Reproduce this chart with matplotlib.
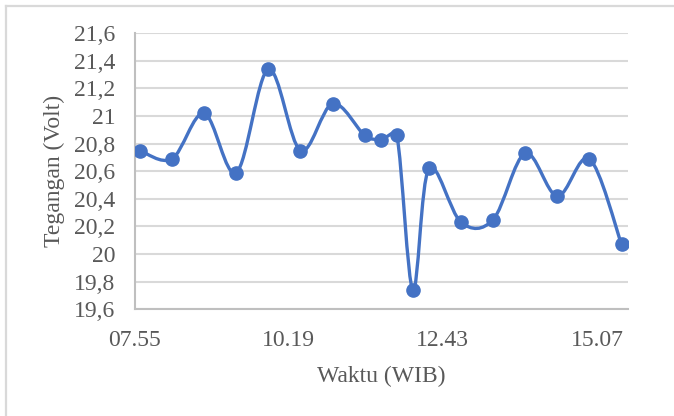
import numpy as np
import matplotlib
matplotlib.use("Agg")
import matplotlib.pyplot as plt
from matplotlib.path import Path
from matplotlib.patches import PathPatch
from matplotlib.lines import Line2D
from matplotlib.ticker import FixedLocator, FuncFormatter

# measurement times (WIB) and voltage readings
times = ["08:00", "08:30", "09:00", "09:30", "10:00", "10:30", "11:00", "11:30",
         "11:45", "12:00", "12:15", "12:30", "13:00", "13:30", "14:00", "14:30",
         "15:00", "15:30"]
volts = [20.75, 20.69, 21.02, 20.59, 21.34, 20.75, 21.09, 20.86,
         20.83, 20.86, 19.74, 20.62, 20.23, 20.25, 20.73, 20.42,
         20.69, 20.07]
x_ticks = ["07:55", "10:19", "12:43", "15:07"]
x_max = "15:36"
y_ticks = [19.6, 19.8, 20.0, 20.2, 20.4, 20.6, 20.8, 21.0, 21.2, 21.4, 21.6]

BLUE = "#4472C4"
GRID = "#D9D9D9"
TXT = "#595959"
FONT = "Liberation Serif"
FS = 17


def to_min(t):
    h, m = t.split(":")
    return int(h) * 60 + int(m)


def fmt_time(v, pos=None):
    v = int(round(v))
    return "%02d.%02d" % (v // 60, v % 60)


def fmt_volt(v, pos=None):
    s = ("%.1f" % v).replace(".", ",")
    return s[:-2] if s.endswith(",0") else s


def smooth_path(ax, xs, ys):
    # cardinal bezier (1/6 tension), control arms clamped to half the segment
    # length measured on screen so short segments don't overshoot
    pts = np.column_stack([xs, ys])
    scr = ax.transData.transform(pts)
    n = len(pts)
    verts = [pts[0]]
    codes = [Path.MOVETO]
    for i in range(n - 1):
        i0 = max(i - 1, 0)
        i3 = min(i + 2, n - 1)
        d12 = np.hypot(*(scr[i + 1] - scr[i]))
        d02 = np.hypot(*(scr[i + 1] - scr[i0]))
        d13 = np.hypot(*(scr[i3] - scr[i]))
        f1 = min(1 / 6.0, d12 / (2 * d02)) if d02 > 0 else 0
        f2 = min(1 / 6.0, d12 / (2 * d13)) if d13 > 0 else 0
        c1 = pts[i] + (pts[i + 1] - pts[i0]) * f1
        c2 = pts[i + 1] - (pts[i3] - pts[i]) * f2
        verts += [c1, c2, pts[i + 1]]
        codes += [Path.CURVE4] * 3
    return Path(verts, codes)


xs = np.array([to_min(t) for t in times], dtype=float)
ys = np.array(volts)
tick_pos = [to_min(t) for t in x_ticks]

fig = plt.figure(figsize=(6.74, 4.16), dpi=100)
ax = fig.add_axes([134.6 / 674, 1 - 309.2 / 416, (628 - 134.6) / 674, (309.2 - 33.3) / 416])

ax.set_xlim(tick_pos[0], to_min(x_max))
ax.set_ylim(y_ticks[0], y_ticks[-1])

ax.add_patch(PathPatch(smooth_path(ax, xs, ys), facecolor="none", edgecolor=BLUE,
                       lw=2.4, capstyle="round", joinstyle="round", zorder=3))
ax.plot(xs, ys, "o", color=BLUE, ms=9.5, mec=BLUE, zorder=4)

ax.yaxis.set_major_locator(FixedLocator(y_ticks))
ax.yaxis.set_major_formatter(FuncFormatter(fmt_volt))
ax.xaxis.set_major_locator(FixedLocator(tick_pos))
ax.xaxis.set_major_formatter(FuncFormatter(fmt_time))
ax.grid(axis="y", color=GRID, lw=1.5)
ax.set_axisbelow(True)

for s in ["top", "right"]:
    ax.spines[s].set_visible(False)
for s in ["left", "bottom"]:
    ax.spines[s].set_color("#BFBFBF")
    ax.spines[s].set_linewidth(1.5)

ax.tick_params(length=0, labelsize=FS, labelcolor=TXT)
ax.tick_params(axis="x", pad=15)
ax.tick_params(axis="y", pad=14)
for lab in ax.get_xticklabels() + ax.get_yticklabels():
    lab.set_fontfamily(FONT)

ax.set_xlabel("Waktu (WIB)", fontsize=FS, color=TXT, fontfamily=FONT)
ax.set_ylabel("Tegangan (Volt)", fontsize=FS, color=TXT, fontfamily=FONT)
ax.xaxis.set_label_coords(0.5, -0.205)
ax.yaxis.set_label_coords(-0.142, 0.5)

# chart frame
fig.add_artist(Line2D([6 / 674, 6 / 674], [0, 1 - 6 / 416], transform=fig.transFigure,
                      color=GRID, lw=1.6))
fig.add_artist(Line2D([6 / 674, 1], [1 - 6 / 416, 1 - 6 / 416], transform=fig.transFigure,
                      color=GRID, lw=1.6))

fig.savefig("out.png", dpi=100)
